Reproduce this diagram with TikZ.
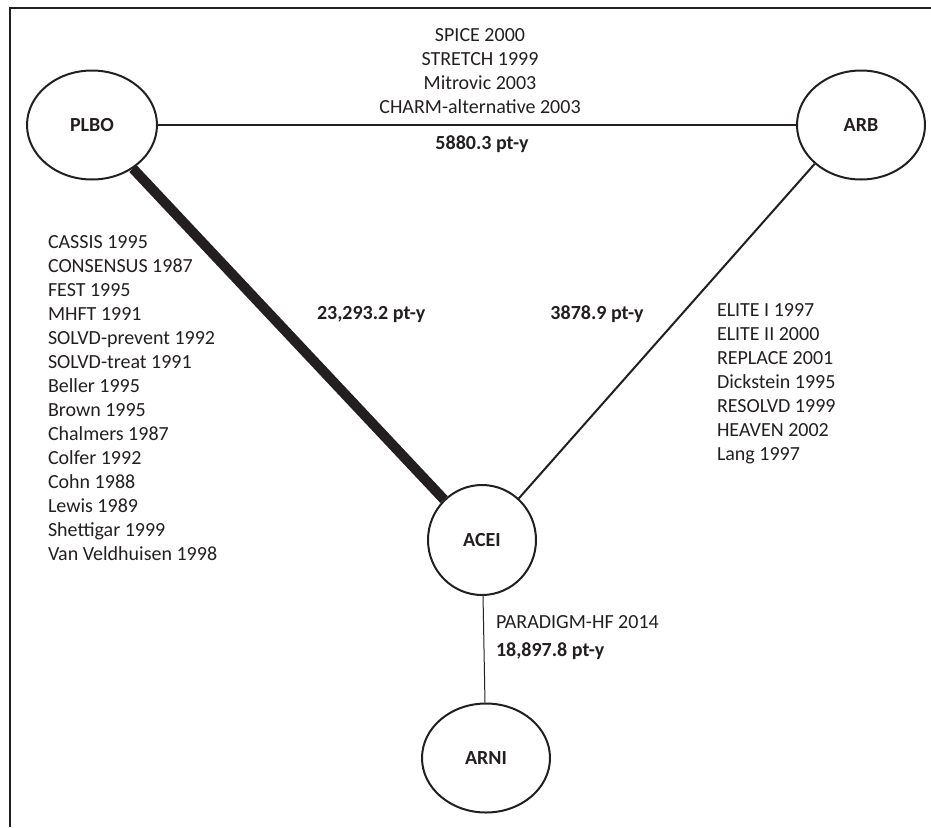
\documentclass[tikz,border=0pt]{standalone}
\usepackage{fontspec}
\setmainfont{Carlito}
\usetikzlibrary{shapes.geometric,positioning}
\definecolor{ink}{HTML}{231F20}
\newcommand{\sizetw}{\fontsize{20}{24}\selectfont}

\begin{document}
\begin{tikzpicture}[x=1pt, y=-1pt, line width=2pt, draw=ink, text=ink, font=\sizetw]
        \tikzstyle{arm} = [draw, ellipse, inner sep=0pt, minimum width=128pt, minimum height=109pt, font=\sizetw\bfseries]
        \tikzstyle{lbl} = [inner sep=0pt, font=\sizetw\bfseries]
        \tikzstyle{trials} = [inner sep=0pt]

        \useasboundingbox (0,0) rectangle (931,827);
        \draw (931,8) -- (10,8) -- (10,827);

        \node [arm, minimum width=130pt] (plbo) at (92,125) {PLBO};
        \node [arm] (arb) at (861,125) {ARB};
        \node [arm, minimum width=108pt, minimum height=110pt] (acei) at (482,540) {ACEI};
        \node [arm] (arni) at (486,758) {ARNI};

        \draw (plbo) -- (arb);
        \draw [line width=10pt] (plbo) -- (acei);
        \draw (arb.-140) -- (acei);
        \draw [line width=1pt] (acei) -- (arni);

        \node [trials] (toptrials) at (480,73) {
          \begin{tabular}{@{}c@{}}
            SPICE 2000\\
            STRETCH 1999\\
            Mitrovic 2003\\
            CHARM-alternative 2003
          \end{tabular}
        };
        \node [lbl, anchor=base] (plboarb) at (482,149.5) {5880.3 pt-y};

        \node [trials, anchor=west] (lefttrials) at (47,400) {
          \begin{tabular}{@{}l@{}}
            CASSIS 1995\\
            CONSENSUS 1987\\
            FEST 1995\\
            MHFT 1991\\
            SOLVD-prevent 1992\\
            SOLVD-treat 1991\\
            Beller 1995\\
            Brown 1995\\
            Chalmers 1987\\
            Colfer 1992\\
            Cohn 1988\\
            Lewis 1989\\
            Shettigar 1999\\
            Van Veldhuisen 1998
          \end{tabular}
        };
        \node [lbl, anchor=base west] (plboacei) at (316,319.5) {23,293.2 pt-y};

        \node [trials, anchor=west] (righttrials) at (716,384) {
          \begin{tabular}{@{}l@{}}
            ELITE I 1997\\
            ELITE II 2000\\
            REPLACE 2001\\
            Dickstein 1995\\
            RESOLVD 1999\\
            HEAVEN 2002\\
            Lang 1997
          \end{tabular}
        };
        \node [lbl, anchor=base] (arbacei) at (597,319.5) {3878.9 pt-y};

        \node [trials, anchor=base west] (paradigm) at (495,628.5) {PARADIGM-HF 2014};
        \node [lbl, anchor=base west] (aceiarni) at (495,656.5) {18,897.8 pt-y};
\end{tikzpicture}
\end{document}
